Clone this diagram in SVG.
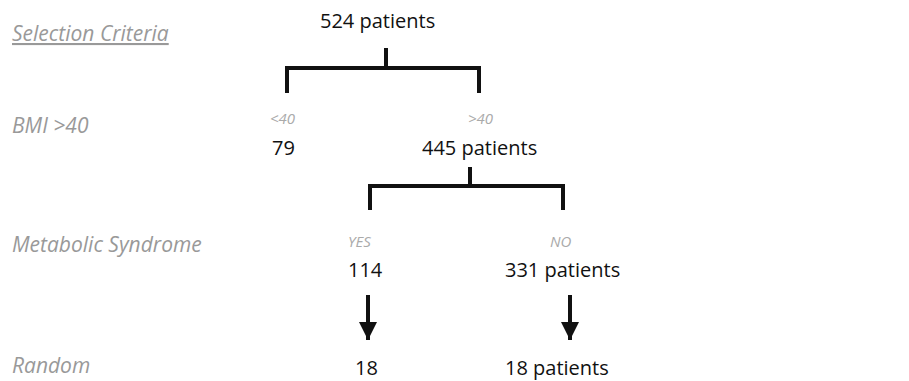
<svg xmlns="http://www.w3.org/2000/svg" width="909" height="381" viewBox="0 0 909 381">
<defs>
<style>
.lab{font-family:"Open Sans","Liberation Sans",sans-serif;font-style:italic;font-size:21px;fill:#999;}
.sm{font-family:"Open Sans","Liberation Sans",sans-serif;font-style:italic;font-size:15px;fill:#aaa;}
.num{font-family:"Open Sans","Liberation Sans",sans-serif;font-size:20px;fill:#111;}
.br{fill:none;stroke:#111;stroke-width:4;stroke-linecap:butt;stroke-linejoin:miter;}
</style>
<marker id="ah" viewBox="0 0 10 10" refX="10" refY="5" markerWidth="4.5" markerHeight="4.5" orient="auto" markerUnits="strokeWidth">
<path d="M0,0 L10,5 L0,10 z" fill="#111"/>
</marker>
</defs>
<rect width="909" height="381" fill="#fff"/>
<g id="row-labels">
<text class="lab" x="12" y="41" text-decoration="underline">Selection Criteria</text>
<text class="lab" x="12" y="133">BMI &gt;40</text>
<text class="lab" x="12" y="252">Metabolic Syndrome</text>
<text class="lab" x="12" y="373">Random</text>
</g>
<g id="n524"><text class="num" x="320" y="28">524 patients</text></g>
<g id="n79"><text class="sm" x="270" y="124">&lt;40</text><text class="num" x="272" y="155">79</text></g>
<g id="n445"><text class="sm" x="468" y="124">&gt;40</text><text class="num" x="422" y="155">445 patients</text></g>
<g id="n114"><text class="sm" x="348" y="247">YES</text><text class="num" x="348" y="277">114</text></g>
<g id="n331"><text class="sm" x="550" y="247">NO</text><text class="num" x="505" y="277">331 patients</text></g>
<g id="n18a"><text class="num" x="355" y="375">18</text></g>
<g id="n18b"><text class="num" x="505" y="375">18 patients</text></g>
<g id="connectors">
<path class="br" d="M386,48 V68 M287,93 V68 H479 V93"/>
<path class="br" d="M470,167 V186 M370,210 V186 H563 V210"/>
<line class="br" x1="368" y1="295" x2="368" y2="340" marker-end="url(#ah)"/>
<line class="br" x1="570" y1="295" x2="570" y2="340" marker-end="url(#ah)"/>
</g>
</svg>
